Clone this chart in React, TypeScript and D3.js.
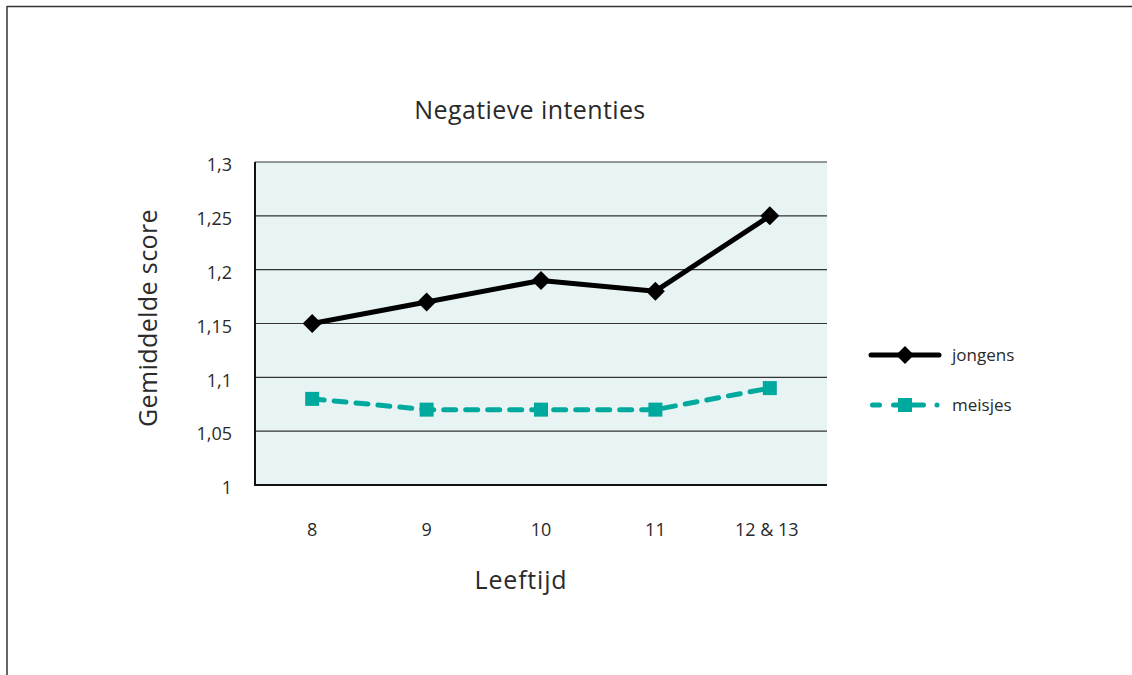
import React from "react";
import * as d3 from "d3";

const categories = ["8", "9", "10", "11", "12 & 13"];
const jongens = [1.15, 1.17, 1.19, 1.18, 1.25];
const meisjes = [1.08, 1.07, 1.07, 1.07, 1.09];
const yTicks = [1, 1.05, 1.1, 1.15, 1.2, 1.25, 1.3];
const seriesNames = ["jongens", "meisjes"];

const W = 1132;
const H = 675;
const M = { left: 255, right: 827, top: 162, bottom: 485 };
const FONT = "'Open Sans', 'Noto Sans', sans-serif";
const TEAL = "#00a99d";
const TXT = "#2a2a2a";

export default function App() {
  const x = d3.scaleBand<string>().domain(categories).range([M.left, M.right]);
  const y = d3.scaleLinear().domain([1, 1.3]).range([M.bottom, M.top]);
  const cx = (c: string) => (x(c) as number) + x.bandwidth() / 2;
  const line = d3
    .line<number>()
    .x((_, i) => cx(categories[i]))
    .y((d) => y(d));
  const fmt = (v: number) => String(+v.toFixed(2)).replace(".", ",");
  const diamond = (px: number, py: number, r: number) =>
    `M${px},${py - r}L${px + r},${py}L${px},${py + r}L${px - r},${py}Z`;

  return (
    <svg
      width={W}
      height={H}
      style={{ position: "absolute", left: 0, top: 0, background: "#fff" }}
      fontFamily={FONT}
    >
      {/* frame */}
      <line x1={7} y1={6.5} x2={W} y2={6.5} stroke="#333" strokeWidth={1.5} />
      <line x1={7} y1={6} x2={7} y2={H} stroke="#333" strokeWidth={1.5} />

      {/* plot background */}
      <rect
        x={M.left}
        y={M.top}
        width={M.right - M.left}
        height={M.bottom - M.top}
        fill="#e8f4f4"
      />
      {yTicks.map((t) => (
        <line
          key={t}
          x1={M.left}
          x2={M.right}
          y1={y(t)}
          y2={y(t)}
          stroke="#333"
          strokeWidth={1.2}
        />
      ))}
      <line x1={M.left} x2={M.left} y1={M.top} y2={M.bottom + 1} stroke="#111" strokeWidth={2} />
      <line x1={M.left - 1} x2={M.right} y1={M.bottom} y2={M.bottom} stroke="#111" strokeWidth={2} />

      {/* y tick labels */}
      {yTicks.map((t) => (
        <text
          key={t}
          x={232}
          y={y(t) + 3}
          dy="0.35em"
          textAnchor="end"
          fontSize={18}
          fill={TXT}
        >
          {fmt(t)}
        </text>
      ))}
      {/* x tick labels */}
      {categories.map((c) => (
        <text key={c} x={cx(c) - (c.length > 2 ? 3 : 0)} y={530} dy="0.35em" textAnchor="middle" fontSize={18} fill={TXT}>
          {c}
        </text>
      ))}

      {/* titles */}
      <text x={530} y={119} textAnchor="middle" fontSize={25} letterSpacing={0.4} fill={TXT}>
        Negatieve intenties
      </text>
      <text x={521} y={589} textAnchor="middle" fontSize={25} letterSpacing={0.8} fill={TXT}>
        Leeftijd
      </text>
      <text
        transform={`translate(157,318) rotate(-90)`}
        textAnchor="middle"
        fontSize={25}
        letterSpacing={0.4}
        fill={TXT}
      >
        Gemiddelde score
      </text>

      {/* series */}
      <path d={line(meisjes) || ""} fill="none" stroke={TEAL} strokeWidth={5} strokeDasharray="12 10" strokeLinecap="round" />
      {meisjes.map((v, i) => (
        <rect key={i} x={cx(categories[i]) - 7} y={y(v) - 7} width={14} height={14} fill={TEAL} />
      ))}
      <path d={line(jongens) || ""} fill="none" stroke="#000" strokeWidth={5} strokeLinejoin="round" />
      {jongens.map((v, i) => (
        <path key={i} d={diamond(cx(categories[i]), y(v), 9.5)} fill="#000" />
      ))}

      {/* legend */}
      <g>
        <line x1={871} x2={939} y1={355} y2={355} stroke="#000" strokeWidth={5} strokeLinecap="round" />
        <path d={diamond(905, 355, 9)} fill="#000" />
        <text x={952} y={355} dy="0.35em" fontSize={17} fill={TXT}>
          {seriesNames[0]}
        </text>
        <line x1={872.5} x2={938} y1={405} y2={405} stroke={TEAL} strokeWidth={5} strokeDasharray="7 14 30 13.5 0.01 100" strokeLinecap="round" />
        <rect x={898} y={398} width={14} height={14} fill={TEAL} />
        <text x={952} y={405} dy="0.35em" fontSize={17} fill={TXT}>
          {seriesNames[1]}
        </text>
      </g>
    </svg>
  );
}
